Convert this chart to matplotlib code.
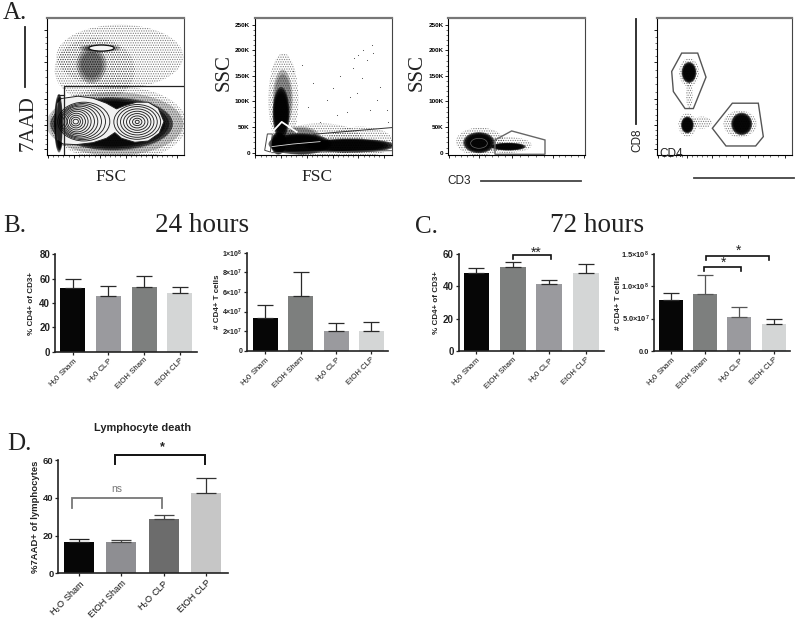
import matplotlib
matplotlib.use("Agg")
import matplotlib.pyplot as plt
from matplotlib.patches import Ellipse, Polygon

W, H = 796, 620
plt.rcParams['font.family'] = ['Liberation Sans', 'DejaVu Sans']
plt.rcParams['mathtext.default'] = 'regular'
plt.rcParams['hatch.linewidth'] = 0.6

BLACK, MID, LIGHTMID, PALE = '#060606', '#7d7f7e', '#9a9a9e', '#d4d6d6'

# ---- bar chart data ----
LAB_B1 = ['H$_2$0 Sham', 'H$_2$0 CLP', 'EtOH Sham', 'EtOH CLP']
VAL_B1 = [52, 46, 53, 48]
TOP_B1 = [59.5, 54, 62.5, 53]
LAB_B2 = ['H$_2$0 Sham', 'EtOH Sham', 'H$_2$0 CLP', 'EtOH CLP']
VAL_B2 = [3.35e7, 5.6e7, 2.0e7, 2.0e7]
TOP_B2 = [4.65e7, 8.05e7, 2.8e7, 2.95e7]
VAL_C1 = [48, 51.8, 41.3, 48.5]
TOP_C1 = [51.2, 55, 43.8, 53.8]
VAL_C2 = [0.786e8, 0.873e8, 0.519e8, 0.411e8]
TOP_C2 = [0.894e8, 1.171e8, 0.683e8, 0.493e8]
LAB_D = ['H$_2$O Sham', 'EtOH Sham', 'H$_2$O CLP', 'EtOH CLP']
VAL_D = [16.8, 16.8, 28.9, 42.4]
TOP_D = [18, 17.5, 30.7, 50.3]

# ---- flow cytometry sketch: channel units of each plot ----
# blobs: centre x, centre y, radius x, radius y
P1_DENSE = [(335, 372, 178, 76), (178, 370, 14, 85)]
P1_MEDIUM = [(275, 195, 45, 55), (300, 145, 62, 12), (345, 372, 205, 95)]
P1_HALO = [(355, 372, 205, 112), (285, 210, 120, 95), (360, 170, 190, 95)]
P1_LEFT_CX = [228, 228, 229, 230, 232, 234, 237, 240, 244, 248, 252]
P1_LEFT_RX = [8, 14, 20, 27, 33, 40, 47, 54, 61, 69, 78]
P1_LEFT_RY = [7, 13, 19, 25, 31, 36, 41, 46, 50, 54, 58]
P1_RIGHT_RX = [6, 14, 23, 32, 41, 50, 60, 70]
P1_RIGHT_RY = [5, 11, 18, 25, 32, 39, 46, 52]
P1_PEANUT = [(185, 296), (235, 289), (280, 295), (320, 310), (350, 327), (375, 317), (410, 307),
             (445, 307), (475, 325), (492, 365), (478, 400), (445, 423), (405, 427), (365, 415),
             (345, 398), (320, 415), (280, 428), (230, 434), (190, 432), (172, 420), (170, 365), (172, 310)]
P1_GATE_X = [193, 193, 552]
P1_GATE_Y = [465, 258, 258]
P1_GATE2_X = [175, 193]
P1_GATE2_Y = [285, 285]
P1_XT = [145, 222, 300, 377, 455, 532]
P1_YT = [92, 187, 298, 375, 447]

P2_DENSE = [(843, 340, 24, 75), (900, 432, 90, 30), (1050, 437, 130, 20), (835, 430, 22, 32)]
P2_MEDIUM = [(848, 300, 30, 90), (900, 410, 60, 30)]
P2_HALO = [(850, 300, 45, 140), (960, 420, 130, 50), (1080, 425, 100, 45)]
P2_SPARSE_X = [1062, 1075, 1090, 1102, 1115, 1060, 1120, 1085, 1050, 1140, 1160, 1010, 980, 940,
               905, 880, 925, 1000, 1040, 1130, 1165, 1070, 960, 1110, 1020]
P2_SPARSE_Y = [175, 165, 150, 180, 135, 205, 160, 235, 290, 260, 330, 345, 300, 250,
               195, 215, 320, 265, 335, 300, 365, 280, 365, 330, 230]
P2_LINE_X = [940, 1175]
P2_LINE_Y = [403, 383]
P2_BASE_X = [815, 1175]
P2_BASE_Y = [458, 452]
P2_GATE = [(802, 402), (817, 402), (811, 456), (794, 451)]
P2_CHEV_X = [815, 845, 890]
P2_CHEV_Y = [398, 366, 396]
P2_STREAK_X = [815, 880, 960]
P2_STREAK_Y = [440, 432, 425]
SSC_K = [0, 50, 100, 150, 200, 250]
SSC_LAB = ['0', '50K', '100K', '150K', '200K', '250K']
P2_XT = [766, 843, 920, 998, 1075, 1152]

P3_DENSE = [(237, 428, 45, 30), (325, 440, 50, 11)]
P3_HALO = [(240, 425, 72, 42), (320, 435, 75, 24)]
P3_GATE = [(285, 420), (335, 393), (435, 420), (435, 463), (285, 463)]
P3_XT = [148, 236, 335, 458, 552]

P4_DENSE = [(867, 218, 21, 30), (862, 375, 18, 24), (1025, 372, 30, 32)]
P4_HALO = [(867, 218, 30, 42), (868, 285, 10, 40), (862, 375, 27, 35), (905, 368, 30, 18), (1020, 372, 50, 40)]
P4_GATE1 = [(845, 160), (893, 160), (918, 232), (880, 326), (855, 326), (820, 275), (815, 215)]
P4_GATE2 = [(937, 385), (997, 310), (1075, 310), (1090, 410), (1067, 438), (978, 438)]
P4_XT = [775, 862, 935, 1043, 1155]
P4_YT = [92, 187, 298, 375, 447]

fig = plt.figure(figsize=(W / 100, H / 100), dpi=100, facecolor='white')


def axes_px(x0, x1, ytop, ybot):
    return fig.add_axes([x0 / W, 1 - ybot / H, (x1 - x0) / W, (ybot - ytop) / H])


def label(x, y, s, **kw):
    kw.setdefault('ha', 'center')
    kw.setdefault('va', 'center')
    fig.text(x / W, 1 - y / H, s, **kw)


def vline_fig(xs, ys, lw=1.3, color='#222222'):
    fig.add_artist(plt.Line2D([x / W for x in xs], [1 - y / H for y in ys], lw=lw, color=color))


def blob(ax, spec, levels=(1.05, 0.97, 0.88, 0.78), alpha=0.6):
    for cx, cy, rx, ry in spec:
        for s in levels:
            ax.add_patch(Ellipse((cx, cy), 2 * rx * s, 2 * ry * s, fc='black', ec='none', alpha=alpha, zorder=2))


def halo(ax, spec, hatch='.......', alpha=0.6):
    for cx, cy, rx, ry in spec:
        ax.add_patch(Ellipse((cx, cy), 2 * rx, 2 * ry, fill=False, hatch=hatch, ec='#333333', lw=0, alpha=alpha, zorder=1.5))


def flow_axes(rect, lims, xt, yt=None, ylabels=None):
    ax = axes_px(*rect)
    ax.set_xlim(lims[0], lims[1])
    ax.set_ylim(lims[2], lims[3])
    ax.spines['top'].set_color('#777777')
    ax.spines['top'].set_linewidth(1.6)
    ax.spines['right'].set_color('#444444')
    ax.spines['right'].set_linewidth(0.8)
    ax.spines['left'].set_linewidth(0.8)
    ax.spines['bottom'].set_linewidth(0.8)
    ax.set_xticks(xt)
    ax.set_xticklabels([])
    minor_x = [a + (b - a) * f for a, b in zip(xt[:-1], xt[1:]) for f in (0.2, 0.4, 0.6, 0.8)]
    ax.set_xticks(minor_x, minor=True)
    if yt is not None:
        ax.set_yticks(yt)
        ax.set_yticklabels(ylabels if ylabels else [])
        minor_y = [a + (b - a) * f for a, b in zip(yt[:-1], yt[1:]) for f in (0.2, 0.4, 0.6, 0.8)]
        ax.set_yticks(minor_y, minor=True)
    ax.tick_params(which='major', length=2.5, width=0.6, labelsize=4.6, pad=1)
    ax.tick_params(which='minor', length=1.3, width=0.4)
    for t in ax.get_yticklabels():
        t.set_fontweight('bold')
    return ax


# ---- Panel A ----
ax1 = flow_axes((47, 184, 18, 155), (142, 552, 465, 55), P1_XT, P1_YT)
halo(ax1, P1_HALO)
blob(ax1, P1_MEDIUM, levels=(1.0, 0.85, 0.7), alpha=0.22)
blob(ax1, P1_DENSE, levels=(1.03, 0.97, 0.9), alpha=0.55)
ax1.add_patch(Polygon(P1_PEANUT, closed=True, fc='#f2f2f2', ec='#222222', lw=0.7, joinstyle='round', zorder=3))
for cx, rx, ry in zip(P1_LEFT_CX, P1_LEFT_RX, P1_LEFT_RY):
    ax1.add_patch(Ellipse((cx, 365), 2 * rx, 2 * ry, fill=False, ec='#222222', lw=0.65, zorder=4))
for rx, ry in zip(P1_RIGHT_RX, P1_RIGHT_RY):
    ax1.add_patch(Ellipse((412, 366), 2 * rx, 2 * ry, fill=False, ec='#222222', lw=0.65, zorder=4))
ax1.add_patch(Ellipse((305, 145), 76, 18, fc='#f5f5f5', ec='#111111', lw=0.9, zorder=4))
ax1.plot(P1_GATE_X, P1_GATE_Y, color='#222222', lw=0.9, zorder=5)
ax1.plot(P1_GATE2_X, P1_GATE2_Y, color='#222222', lw=0.9, zorder=5)
blob(ax1, [(180, 370, 9, 80)], levels=(1.0, 0.9), alpha=0.6)
for a in ax1.patches[-2:]:
    a.set_zorder(4.5)

ssc_pos = [458 - k * 1.532 for k in SSC_K]
ax2 = flow_axes((254.7, 391.7, 18, 155), (764, 1175, 465, 55), P2_XT, ssc_pos, SSC_LAB)
halo(ax2, P2_HALO)
blob(ax2, P2_MEDIUM, levels=(1.0, 0.85), alpha=0.25)
blob(ax2, P2_DENSE)
ax2.scatter(P2_SPARSE_X, P2_SPARSE_Y, s=0.6, color='#444444', lw=0, zorder=2)
ax2.plot(P2_LINE_X, P2_LINE_Y, color='#333333', lw=0.7, zorder=4)
ax2.plot(P2_BASE_X, P2_BASE_Y, color='#555555', lw=0.7, zorder=4)
ax2.plot(P2_CHEV_X, P2_CHEV_Y, color='white', lw=1.3, zorder=4)
ax2.plot(P2_STREAK_X, P2_STREAK_Y, color='#dddddd', lw=0.6, zorder=4)
ax2.add_patch(Polygon(P2_GATE, closed=True, fill=False, ec='#444444', lw=0.7, zorder=4))

ax3 = flow_axes((448.3, 585, 18, 155), (145, 555, 465, 55), P3_XT, ssc_pos, SSC_LAB)
halo(ax3, P3_HALO)
blob(ax3, P3_DENSE)
ax3.add_patch(Polygon(P3_GATE, closed=True, fill=False, ec='#666666', lw=1.0, zorder=4))
ax3.add_patch(Ellipse((237, 430), 50, 30, fill=False, ec='#666666', lw=0.5, zorder=4))

ax4 = flow_axes((656.7, 792.3, 18, 155), (770, 1177, 465, 55), P4_XT, P4_YT)
halo(ax4, P4_HALO)
blob(ax4, P4_DENSE)
ax4.add_patch(Polygon(P4_GATE1, closed=True, fill=False, ec='#555555', lw=1.0, zorder=4))
ax4.add_patch(Polygon(P4_GATE2, closed=True, fill=False, ec='#555555', lw=1.0, zorder=4))

SERIF = ['Liberation Serif', 'DejaVu Serif']
label(3, 13, 'A.', family=SERIF, fontsize=18, ha='left', color='#222222')
label(111, 177, 'FSC', family=SERIF, fontsize=12.5, color='#222222')
label(317, 177, 'FSC', family=SERIF, fontsize=12.5, color='#222222')
label(28, 123, '7AAD', family=SERIF, fontsize=15, rotation=90, color='#222222')
label(224, 73, 'SSC', family=SERIF, fontsize=15, rotation=90, color='#222222')
label(417, 73, 'SSC', family=SERIF, fontsize=15, rotation=90, color='#222222')
label(459, 181, 'CD3', fontsize=8.5, color='#222222')
label(637, 140, 'CD8', fontsize=8.5, rotation=90, color='#222222')
label(671, 154, 'CD4', fontsize=8.5, color='#222222', zorder=10)
vline_fig([25, 25], [27, 87])
vline_fig([636, 636], [19, 124])
vline_fig([481, 581], [181, 181], color='#444444')
vline_fig([694, 794], [178, 178], color='#444444')

label(3, 226, 'B.', family=SERIF, fontsize=18, ha='left', color='#222222')
label(202, 226, '24 hours', family=SERIF, fontsize=19.5, color='#222222')
label(415, 227, 'C.', family=SERIF, fontsize=18, ha='left', color='#222222')
label(597, 226, '72 hours', family=SERIF, fontsize=19.5, color='#222222')
label(7, 444, 'D.', family=SERIF, fontsize=18, ha='left', color='#222222')


def bar_panel(rect, c0, spacing, width, labels, vals, tops, colors, ylim, yticks, yticklabels,
              ylabel, ylabel_x, fs=7, lfs=5.6, lw=1.2, ecolors=None):
    ax = axes_px(*rect)
    ax.set_xlim((rect[0] - c0) / spacing, (rect[1] - c0) / spacing)
    ax.set_ylim(*ylim)
    xs = list(range(len(vals)))
    ax.bar(xs, vals, width=width / spacing, color=colors, zorder=2)
    errs = [t - v for t, v in zip(tops, vals)]
    for x, v, e, col in zip(xs, vals, errs, ecolors or ['#2a2a2a'] * len(xs)):
        ax.errorbar(x, v, yerr=[[0], [e]], color=col, capsize=width * 0.23, elinewidth=0.9,
                    capthick=0.9, zorder=3, clip_on=False)
    for s in ('top', 'right'):
        ax.spines[s].set_visible(False)
    for s in ('left', 'bottom'):
        ax.spines[s].set_linewidth(lw)
        ax.spines[s].set_color('#222222')
    ax.set_xticks(xs)
    ax.set_xticklabels(labels, rotation=45, ha='right', rotation_mode='anchor', fontsize=lfs,
                       color='#111111')
    ax.set_yticks(yticks)
    ax.set_yticklabels(yticklabels, fontsize=fs, color='#222222', fontweight='bold')
    ax.tick_params(length=2.5, width=0.9, pad=1, color='#222222')
    label(ylabel_x, (rect[2] + rect[3]) / 2, ylabel, rotation=90, fontsize=lfs + 0.2,
          fontweight='bold', color='#222222')
    return ax


def bracket(ax, x0, x1, ytop, ybot, color='#111111', lw=1.2):
    ax.plot([x0, x0, x1, x1], [ybot, ytop, ytop, ybot], color=color, lw=lw, clip_on=False, zorder=5,
            solid_joinstyle='miter')


bar_panel((55, 197, 254.3, 351.7), 72.8, 35.7, 25, LAB_B1, VAL_B1, TOP_B1,
          [BLACK, LIGHTMID, MID, PALE], (0, 80), [0, 20, 40, 60, 80],
          ['0', '20', '40', '60', '80'], '% CD4+ of CD3+', 31.5)

bar_panel((247.3, 388, 252.7, 350.7), 265.2, 35.4, 25, LAB_B2, VAL_B2, TOP_B2,
          [BLACK, MID, LIGHTMID, PALE], (0, 1e8), [0, 2e7, 4e7, 6e7, 8e7, 1e8],
          ['0', '2×10$^{7}$', '4×10$^{7}$', '6×10$^{7}$', '8×10$^{7}$', '1×10$^{8}$'],
          '# CD4+ T cells', 217.5, fs=5.0)

axc1 = bar_panel((458.7, 604, 254, 351), 476.5, 36.4, 25.7, LAB_B2, VAL_C1, TOP_C1,
                 [BLACK, MID, LIGHTMID, PALE], (0, 60), [0, 20, 40, 60],
                 ['0', '20', '40', '60'], '% CD4+ of CD3+', 436)
bracket(axc1, 0.99, 2.06, 59.4, 56.7)
axc1.text(1.65, 60.5, '**', ha='center', va='center', fontsize=10, color='#222222')

axc2 = bar_panel((654.3, 790, 253.7, 351), 670.7, 34.3, 24, LAB_B2, VAL_C2, TOP_C2,
                 [BLACK, MID, LIGHTMID, PALE], (0, 1.5e8), [0, 0.5e8, 1e8, 1.5e8],
                 ['0.0', '5.0×10$^{7}$', '1.0×10$^{8}$', '1.5×10$^{8}$'],
                 '# CD4+ T cells', 619, fs=5.4, ecolors=['#2a2a2a', '#555555', '#555555', '#2a2a2a'])
bracket(axc2, 1.03, 2.87, 1.469e8, 1.402e8)
bracket(axc2, 0.98, 2.04, 1.295e8, 1.233e8)
axc2.text(1.99, 1.54e8, '*', ha='center', va='center', fontsize=10, color='#222222')
axc2.text(1.53, 1.36e8, '*', ha='center', va='center', fontsize=10, color='#222222')

axd = bar_panel((58.3, 227.7, 460, 573.3), 79, 42.4, 30, LAB_D, VAL_D, TOP_D,
                [BLACK, '#8e8e92', '#6c6c6c', '#c6c6c6'], (0, 60), [0, 20, 40, 60],
                ['0', '20', '40', '60'], '%7AAD+ of lymphocytes', 36, fs=6.8, lfs=6.6,
                ecolors=['#222222', '#444444', '#444444', '#333333'])
bracket(axd, 0.856, 2.98, 62.6, 57.7, lw=1.4)
bracket(axd, -0.157, 1.96, 39.9, 34.8, color='#777777', lw=1.3)
axd.text(1.96, 67, '*', ha='center', va='center', fontsize=9, fontweight='bold', color='#222222', clip_on=False)
axd.text(0.9, 44.6, 'ns', ha='center', va='center', fontsize=7.5, color='#777777')
label(142.7, 428, 'Lymphocyte death', fontsize=7.9, fontweight='bold', color='#222222')

fig.savefig('out.png', dpi=100)
